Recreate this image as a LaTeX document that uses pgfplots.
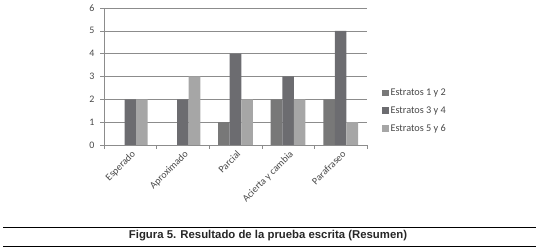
\documentclass[border=0pt]{standalone}
\usepackage{pgfplots}
\pgfplotsset{compat=1.18}
\usepackage{fontspec}
\setmainfont{Carlito}
\newfontfamily\capfont{Liberation Sans}
\definecolor{sA}{HTML}{787878}
\definecolor{sB}{HTML}{6C6C70}
\definecolor{sC}{HTML}{A6A6A6}
\definecolor{gridc}{HTML}{8C8C8C}
\definecolor{txt}{HTML}{484848}
\begin{document}
\begin{tikzpicture}
\useasboundingbox (0,0) rectangle (536bp,247bp);
\begin{axis}[
  at={(104bp,102bp)}, anchor=south west,
  scale only axis, width=263bp, height=137bp,
  ybar=0pt, bar width=0.22,
  xmin=-0.5, xmax=4.5, ymin=0, ymax=6,
  axis x line*=bottom, axis y line*=left,
  axis line style={gridc, line width=0.6pt},
  xtick={0,1,2,3,4},
  xticklabels={Esperado,Aproximado,Parcial,Acierta y cambia,Parafraseo},
  minor xtick={-0.5,0.5,1.5,2.5,3.5,4.5},
  major x tick style={draw=none},
  minor x tick style={gridc, line width=0.6pt},
  minor tick length=4bp,
  ytick={0,1,2,3,4,5,6},
  ymajorgrids, grid style={gridc, line width=0.6pt},
  major y tick style={gridc, line width=0.6pt},
  major tick length=4bp,
  tick align=outside,
  /pgf/number format/assume math mode=true,
  x tick label style={rotate=45, anchor=north east, font=\fontsize{10}{12}\selectfont, text=txt, inner sep=1pt, xshift=1bp},
  y tick label style={font=\fontsize{10}{12}\selectfont, text=txt, xshift=-2bp},
  legend style={at={(1.058,0.25)}, anchor=west, draw=none, fill=none,
    font=\fontsize{10.3}{12}\selectfont, text=txt, row sep=6.5bp,
    inner sep=0pt, nodes={inner sep=1.5pt}},
  legend cell align=left,
  legend image code/.code={\fill[#1,draw=none] (0bp,-3.3bp) rectangle (6.6bp,3.3bp);},
]
\addplot[fill=sA, draw=none] coordinates {(0,0) (1,0) (2,1) (3,2) (4,2)};
\addplot[fill=sB, draw=none] coordinates {(0,2) (1,2) (2,4) (3,3) (4,5)};
\addplot[fill=sC, draw=none] coordinates {(0,2) (1,3) (2,2) (3,2) (4,1)};
\legend{Estratos 1 y 2, Estratos 3 y 4, Estratos 5 y 6}
\end{axis}
\draw[line width=0.9pt] (3bp,20bp) -- (536bp,20bp);
\draw[line width=0.9pt] (3bp,1bp) -- (536bp,1bp);
\node[font=\capfont\bfseries\fontsize{11.4}{13}\selectfont, text=black!85] at (268bp,11bp) {Figura 5. Resultado de la prueba escrita (Resumen)};
\end{tikzpicture}
\end{document}
